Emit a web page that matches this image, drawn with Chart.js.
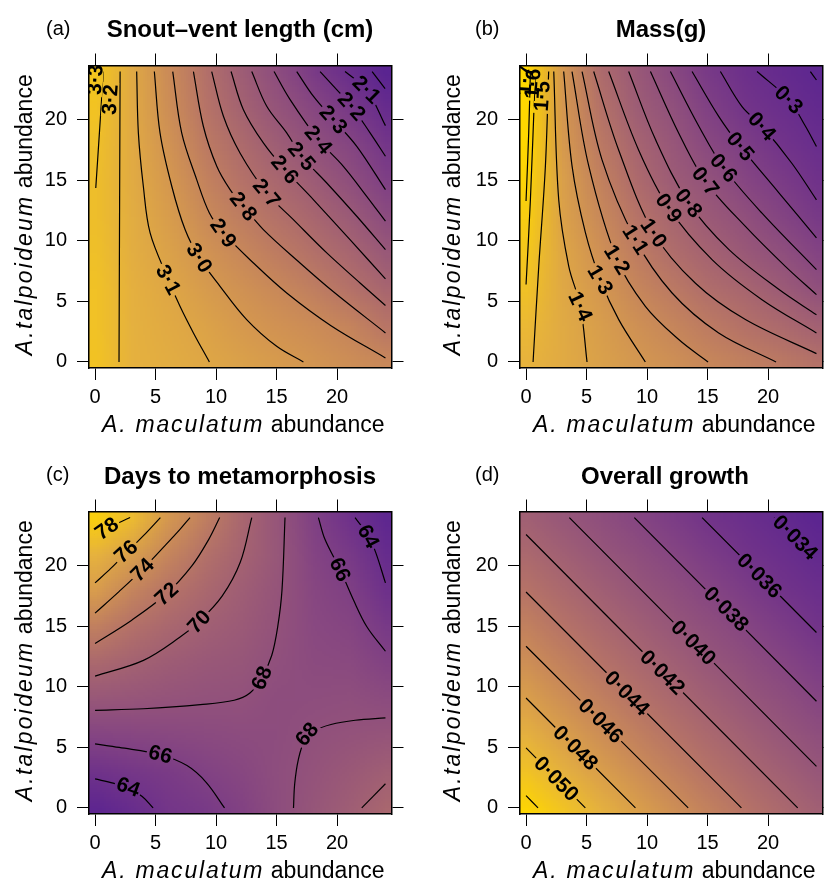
<!DOCTYPE html>
<html lang="en">
<head>
  <meta charset="UTF-8">
  <title>Larval traits vs. salamander abundance</title>
  <script src="https://cdn.jsdelivr.net/npm/chart.js"></script>
  <style>
    body { margin: 0; background: #fff; }
    canvas { position: absolute; }
  </style>
</head>
<body>
  <canvas id="chartA" width="412" height="440" style="left:0;top:0"></canvas>
  <canvas id="chartB" width="412" height="440" style="left:412px;top:0"></canvas>
  <canvas id="chartC" width="412" height="441" style="left:0;top:440px"></canvas>
  <canvas id="chartD" width="412" height="441" style="left:412px;top:440px"></canvas>

  <script>
    // shared axes
    const axisTicks = [0, 5, 10, 15, 20];
    const gridNodes = [0, 3, 6, 9, 12, 15, 18, 21, 24];

    // (a) snout-vent length: surface rows go y = 0, 3, ... 24
    const svlGrid = [
      [3.28, 3.17, 3.14, 3.105, 3.065, 3.03, 2.99, 2.945, 2.905],
      [3.27, 3.165, 3.125, 3.08, 3.02, 2.974, 2.934, 2.882, 2.78],
      [3.27, 3.16, 3.105, 3.037, 2.972, 2.915, 2.844, 2.754, 2.64],
      [3.26, 3.15, 3.075, 2.985, 2.908, 2.828, 2.737, 2.637, 2.51],
      [3.25, 3.14, 3.04, 2.925, 2.83, 2.737, 2.641, 2.528, 2.385],
      [3.25, 3.13, 3.01, 2.875, 2.754, 2.651, 2.54, 2.415, 2.27],
      [3.26, 3.125, 2.978, 2.82, 2.685, 2.557, 2.433, 2.325, 2.18],
      [3.28, 3.12, 2.945, 2.77, 2.61, 2.465, 2.34, 2.215, 2.065],
      [3.3, 3.12, 2.927, 2.74, 2.553, 2.39, 2.23, 2.085, 1.95]
    ];
    const svlLines = [
      [3.15, [[1.98, 0], [2.07, 24]]],
      [3.2, [[0.06, 14.38], [0.36, 18.93], [0.69, 24]]],
      [3.1, [[3.44, 24], [3.58, 18.93], [3.99, 14.52], [4.55, 10.66], [6.06, 6.8], [7.02, 4.6], [8.13, 2.4], [9.45, 0]]],
      [3.0, [[4.9, 24], [5.37, 18.93], [6.34, 14.52], [7.44, 10.94], [8.62, 8.6], [10.33, 6.25], [12.53, 3.5], [15.01, 1.29], [17.22, 0]]],
      [2.9, [[6.42, 24], [7.16, 18.93], [8.4, 15.07], [9.45, 12.31], [10.61, 10.66], [13.09, 8.18], [15.84, 5.7], [19.5, 3.0], [24, 0.33]]],
      [2.8, [[8.13, 24], [8.95, 19.48], [10.06, 16.17], [11.16, 14.24], [12.26, 12.87], [13.91, 10.94], [16.94, 8.18], [19.7, 5.8], [24, 2.4]]],
      [2.7, [[9.64, 24], [10.61, 20.3], [11.98, 17.27], [14.19, 13.97], [16.39, 11.76], [19.15, 9.01], [21.9, 6.53], [24, 4.66]]],
      [2.6, [[11.24, 24], [12.26, 20.85], [13.91, 18.1], [15.7, 15.9], [18.04, 13.42], [21.07, 10.11], [24, 6.86]]],
      [2.5, [[12.95, 24], [14.19, 21.13], [15.84, 18.93], [17.08, 17.0], [19.15, 14.79], [21.63, 12.04], [24, 9.28]]],
      [2.4, [[14.79, 24], [16.12, 21.68], [18.46, 18.37], [20.52, 16.17], [22.45, 13.69], [24, 11.63]]],
      [2.3, [[16.67, 24], [18.04, 21.96], [19.7, 20.03], [21.63, 17.82], [24, 14.24]]],
      [2.2, [[18.6, 24], [19.97, 22.51], [21.21, 21.13], [22.73, 18.93], [24, 17.0]]],
      [2.1, [[20.66, 24], [22.45, 22.51], [24, 19.53]]],
      [2.0, [[22.9, 24], [23.97, 22.59]]]
    ];
    const svlLabels = [
      ['3·3', 0.0, 23.33, -86], ['3·2', 1.24, 21.68, -86], ['3·1', 6.06, 6.8, 62],
      ['3·0', 8.62, 8.6, 58], ['2·9', 10.61, 10.66, 55], ['2·8', 12.26, 12.87, 52],
      ['2·7', 14.19, 13.97, 50], ['2·6', 15.7, 15.9, 50], ['2·5', 17.08, 17.0, 50],
      ['2·4', 18.46, 18.37, 50], ['2·3', 19.7, 20.03, 48], ['2·2', 21.21, 21.13, 48],
      ['2·1', 22.45, 22.51, 45]
    ];

    // (b) mass
    const massGrid = [
      [1.51, 1.445, 1.38, 1.318, 1.26, 1.2, 1.147, 1.094, 1.03],
      [1.55, 1.443, 1.36, 1.27, 1.187, 1.105, 1.024, 0.946, 0.86],
      [1.6, 1.433, 1.32, 1.2, 1.1, 0.99, 0.911, 0.8, 0.68],
      [1.64, 1.416, 1.272, 1.126, 0.988, 0.88, 0.772, 0.67, 0.548],
      [1.68, 1.386, 1.218, 1.053, 0.905, 0.78, 0.675, 0.556, 0.445],
      [1.72, 1.37, 1.162, 0.965, 0.8, 0.7, 0.572, 0.472, 0.365],
      [1.78, 1.33, 1.1, 0.9, 0.75, 0.6, 0.487, 0.39, 0.295],
      [1.84, 1.31, 1.04, 0.82, 0.685, 0.52, 0.397, 0.32, 0.24],
      [1.9, 1.31, 0.967, 0.771, 0.6, 0.445, 0.336, 0.255, 0.19]
    ];
    const massLines = [
      [1.7, [[0, 13.3], [0.22, 18.93], [0.36, 24]]],
      [1.6, [[0, 6.4], [0.36, 13.4], [0.77, 24]]],
      [1.5, [[0.58, 0], [1.05, 7.9], [1.6, 16.2], [1.87, 24]]],
      [1.4, [[5.04, 0], [4.49, 4.6], [3.53, 7.9], [2.7, 13.4], [2.29, 24]]],
      [1.3, [[9.86, 0], [7.66, 3.5], [6.14, 6.8], [4.9, 10.7], [3.8, 16.2], [3.11, 24]]],
      [1.2, [[15.04, 0], [12.62, 1.85], [9.86, 4.6], [7.52, 8.46], [5.18, 16.2], [3.8, 24]]],
      [1.1, [[20.66, 0], [15.92, 2.4], [12.07, 5.7], [9.04, 10.11], [6.28, 16.7], [4.63, 24]]],
      [1.0, [[24, 0.69], [18.13, 3.5], [14, 6.5], [10.55, 10.66], [7.66, 17.5], [5.59, 24]]],
      [0.9, [[24, 2.4], [19.5, 5.15], [15.37, 8.46], [11.79, 12.73], [9.31, 17.5], [6.83, 24]]],
      [0.8, [[24, 3.9], [20.88, 6.0], [16.75, 9.3], [13.44, 13.14], [10.69, 18.4], [8.48, 24]]],
      [0.7, [[24, 5.56], [21.43, 7.9], [18.13, 11.2], [14.82, 14.93], [12.62, 18.9], [10.28, 24]]],
      [0.6, [[24, 7.63], [19.5, 12.3], [16.34, 16.03], [14.27, 19.5], [11.93, 24]]],
      [0.5, [[24, 10.25], [20.88, 14.0], [17.71, 17.82], [15.92, 20.3], [13.72, 24]]],
      [0.4, [[24, 13.4], [21.98, 16.4], [19.5, 19.48], [17.85, 21.1], [16.06, 24]]],
      [0.3, [[24, 17.8], [23.08, 19.5], [21.71, 21.68], [19.09, 24]]],
      [0.2, [[23.5, 24], [24, 23.3]]]
    ];
    const massLabels = [
      ['1·4', 4.49, 4.6, 65], ['1·3', 6.14, 6.8, 60], ['1·2', 7.52, 8.46, 58],
      ['1·1', 9.04, 10.11, 57], ['1·0', 10.55, 10.66, 55], ['0·9', 11.79, 12.73, 55],
      ['0·8', 13.44, 13.14, 52], ['0·7', 14.82, 14.93, 52], ['0·6', 16.34, 16.03, 50],
      ['0·5', 17.71, 17.82, 50], ['0·4', 19.5, 19.48, 48], ['0·3', 21.71, 21.68, 45],
      ['1·5', 1.32, 21.96, -86], ['1·6', 0.55, 23.0, -86], ['1·7', -0.1, 23.3, -86]
    ];

    // (c) days to metamorphosis
    const daysGrid = [
      [62.4, 63.6, 64.9, 65.3, 66.3, 67.5, 68.6, 69.6, 70.7],
      [64.4, 65.0, 65.5, 66.2, 66.8, 67.6, 68.3, 69.0, 69.7],
      [66.5, 66.7, 66.9, 67.2, 67.4, 67.5, 68.0, 68.3, 68.5],
      [68.7, 68.5, 68.3, 68.1, 68.03, 67.5, 67.6, 67.7, 67.4],
      [70.8, 70.05, 69.4, 68.9, 68.6, 67.85, 67.3, 67.1, 66.3],
      [73.1, 71.7, 70.7, 69.8, 69.1, 68.15, 67.0, 66.6, 65.3],
      [75.5, 73.5, 72.1, 70.8, 69.6, 68.4, 66.8, 66.0, 64.2],
      [77.2, 75.6, 73.6, 71.8, 70.2, 68.7, 66.5, 65.3, 63.3],
      [79.4, 77.9, 75.1, 73.1, 70.7, 68.5, 66.1, 64.3, 62.5]
    ];
    const daysLines = [
      [78, [[0, 22.6], [0.96, 23.1], [2.9, 24]]],
      [76, [[0, 18.6], [1.3, 19.8], [2.6, 21.1], [4.0, 22.5], [5.4, 24]]],
      [74, [[0, 16.1], [2, 17.9], [3.9, 19.7], [5.8, 21.7], [7, 23], [7.85, 24]]],
      [72, [[0, 13.6], [3, 15.5], [5.9, 17.7], [8, 20], [9.4, 22.2], [10.3, 24]]],
      [70, [[0, 10.9], [4, 12.2], [7, 14.1], [8.6, 15.4], [10.5, 17.5], [12, 20.3], [12.95, 24]]],
      [68, [[0, 8.07], [4, 8.2], [8.7, 8.54], [11.5, 8.9], [12.8, 9.5], [13.77, 10.74], [14.6, 12.6], [15.1, 15], [15.45, 18], [15.7, 24]]],
      [68, [[16.4, 0], [16.5, 2], [16.8, 4], [17.3, 5.5], [18.2, 6.4], [19.5, 6.9], [21.5, 7.25], [24, 7.45]]],
      [70, [[22.04, 0], [24, 2.0]]],
      [66, [[0, 5.3], [2, 5.0], [5.4, 4.4], [7.6, 3.5], [9.2, 2.1], [10.7, 0]]],
      [64, [[0, 2.4], [1.5, 2.05], [2.8, 1.6], [3.9, 0.95], [4.8, 0]]],
      [66, [[18.46, 24], [19.0, 22.2], [20.25, 19.7], [21.35, 17.2], [22.45, 15.0], [24, 12.95]]],
      [64, [[21.49, 24], [22.6, 22.45], [23.2, 21.1], [24, 18.6]]]
    ];
    const daysLabels = [
      ['78', 0.96, 23.1, -35], ['76', 2.55, 21.2, -42], ['74', 3.9, 19.7, -45],
      ['72', 5.9, 17.7, -42], ['70', 8.6, 15.4, -47], ['68', 13.77, 10.74, -68],
      ['68', 17.5, 6.1, -50], ['66', 5.4, 4.45, 15], ['64', 2.75, 1.75, 20],
      ['66', 20.25, 19.7, 65], ['64', 22.6, 22.45, 62]
    ];

    // (d) overall growth
    const growthGrid = [
      [0.0525, 0.0510, 0.0495, 0.0480, 0.0466, 0.0453, 0.0439, 0.0426, 0.0414],
      [0.0510, 0.0495, 0.0480, 0.0466, 0.0453, 0.0439, 0.0426, 0.0414, 0.0402],
      [0.0495, 0.0480, 0.0466, 0.0453, 0.0439, 0.0426, 0.0414, 0.0402, 0.0391],
      [0.0480, 0.0466, 0.0453, 0.0439, 0.0426, 0.0414, 0.0402, 0.0391, 0.0380],
      [0.0466, 0.0453, 0.0439, 0.0426, 0.0414, 0.0402, 0.0391, 0.0380, 0.0369],
      [0.0453, 0.0439, 0.0426, 0.0414, 0.0402, 0.0391, 0.0380, 0.0369, 0.0358],
      [0.0439, 0.0426, 0.0414, 0.0402, 0.0391, 0.0380, 0.0369, 0.0358, 0.0349],
      [0.0426, 0.0414, 0.0402, 0.0391, 0.0380, 0.0369, 0.0358, 0.0349, 0.0339],
      [0.0414, 0.0402, 0.0391, 0.0380, 0.0369, 0.0358, 0.0349, 0.0339, 0.0330]
    ];
    const growthLines = [
      [0.052, [[0, 1.02], [0.99, 0]]],
      [0.050, [[0, 4.96], [4.9, 0]]],
      [0.048, [[0, 9.09], [9.04, 0]]],
      [0.046, [[0, 13.36], [13.4, 0]]],
      [0.044, [[0, 17.85], [17.8, 0]]],
      [0.042, [[0, 22.6], [22.45, 0]]],
      [0.040, [[3.58, 24], [24, 3.44]]],
      [0.038, [[8.95, 24], [24, 8.82]]],
      [0.036, [[14.55, 24], [24, 14.5]]],
      [0.034, [[20.5, 24], [24, 20.8]]]
    ];
    const growthLabels = [
      ['0·050', 2.51, 2.42, 45], ['0·048', 4.1, 4.97, 45], ['0·046', 6.18, 7.2, 45],
      ['0·044', 8.34, 9.49, 45], ['0·042', 11.29, 11.21, 45], ['0·040', 13.85, 13.65, 45],
      ['0·038', 16.55, 16.45, 45], ['0·036', 19.3, 19.2, 45], ['0·034', 22.25, 22.35, 45]
    ];

    const FAMILY = '"Liberation Sans", Arial, Helvetica, sans-serif';
    const palette = ['#5a2491', '#71338a', '#8a4a80', '#a05f74', '#b87566', '#d29452', '#e8b53c', '#ffd700'];

    function hexRgb(h) {
      return [1, 3, 5].map(i => parseInt(h.slice(i, i + 2), 16));
    }

    function colourFor(v, lo, hi) {
      let t = Math.min(1, Math.max(0, (v - lo) / (hi - lo))) * (palette.length - 1);
      let i = Math.min(palette.length - 2, Math.floor(t));
      let f = t - i;
      let a = hexRgb(palette[i]), b = hexRgb(palette[i + 1]);
      return a.map((c, k) => Math.round(c + (b[k] - c) * f));
    }

    // paints the value grid as an image under the contours
    function surfacePlugin(grid, lo, hi) {
      return {
        id: 'surface',
        beforeDraw(chart) {
          const { ctx, chartArea: area, scales } = chart;
          const n = gridNodes.length;
          const off = document.createElement('canvas');
          off.width = n; off.height = n;
          const octx = off.getContext('2d');
          const img = octx.createImageData(n, n);
          for (let r = 0; r < n; r++) {
            for (let c = 0; c < n; c++) {
              const rgb = colourFor(grid[r][c], lo, hi);
              img.data.set([rgb[0], rgb[1], rgb[2], 255], ((n - 1 - r) * n + c) * 4);
            }
          }
          octx.putImageData(img, 0, 0);
          const half = (gridNodes[1] - gridNodes[0]) / 2;
          const x0 = scales.x.getPixelForValue(gridNodes[0] - half);
          const x1 = scales.x.getPixelForValue(gridNodes[n - 1] + half);
          const y0 = scales.y.getPixelForValue(gridNodes[n - 1] + half);
          const y1 = scales.y.getPixelForValue(gridNodes[0] - half);
          ctx.save();
          ctx.beginPath();
          ctx.rect(area.left, area.top, area.width, area.height);
          ctx.clip();
          ctx.imageSmoothingEnabled = true;
          ctx.imageSmoothingQuality = 'low';
          ctx.drawImage(off, x0, y0, x1 - x0, y1 - y0);
          ctx.restore();
        }
      };
    }

    const labelFont = 'bold 21px ' + FAMILY;

    function labelBox(ctx, chart, lab) {
      const [txt, lx, ly, ang] = lab;
      const px = chart.scales.x.getPixelForValue(lx);
      const py = chart.scales.y.getPixelForValue(ly);
      const w = ctx.measureText(txt).width + 4, h = 16;
      const r = ang * Math.PI / 180, c = Math.cos(r), s = Math.sin(r);
      return [[-w / 2, -h / 2], [w / 2, -h / 2], [w / 2, h / 2], [-w / 2, h / 2]]
        .map(([u, v]) => [px + u * c - v * s, py + u * s + v * c]);
    }

    // contour labels, with the line broken under each label
    function labelPlugin(labels) {
      return {
        id: 'contourLabels',
        beforeDatasetsDraw(chart) {
          const { ctx, chartArea: area } = chart;
          ctx.save();
          ctx.font = labelFont;
          ctx.beginPath();
          ctx.rect(area.left - 2, area.top - 2, area.width + 4, area.height + 4);
          labels.forEach(lab => {
            const pts = labelBox(ctx, chart, lab);
            ctx.moveTo(pts[0][0], pts[0][1]);
            pts.slice(1).forEach(p => ctx.lineTo(p[0], p[1]));
            ctx.closePath();
          });
          ctx.clip('evenodd');
        },
        afterDatasetsDraw(chart) {
          const { ctx, chartArea: area } = chart;
          ctx.restore();
          ctx.save();
          ctx.beginPath();
          ctx.rect(area.left, area.top, area.width, area.height);
          ctx.clip();
          ctx.font = labelFont;
          ctx.fillStyle = '#000';
          ctx.textAlign = 'center';
          ctx.textBaseline = 'middle';
          labels.forEach(([txt, lx, ly, ang]) => {
            ctx.save();
            ctx.translate(chart.scales.x.getPixelForValue(lx), chart.scales.y.getPixelForValue(ly));
            ctx.rotate(ang * Math.PI / 180);
            ctx.fillText(txt, 0, 1);
            ctx.restore();
          });
          ctx.restore();
        }
      };
    }

    // draws a run of text pieces, centred on (cx, cy)
    function drawPieces(ctx, pieces, cx, cy, rotate) {
      ctx.save();
      ctx.translate(cx, cy);
      if (rotate) ctx.rotate(-Math.PI / 2);
      let widths = pieces.map(([txt, font, spacing]) => {
        ctx.font = font;
        ctx.letterSpacing = spacing + 'px';
        return ctx.measureText(txt).width;
      });
      let x = -widths.reduce((s, w) => s + w, 0) / 2;
      ctx.textAlign = 'left';
      ctx.textBaseline = 'alphabetic';
      pieces.forEach(([txt, font, spacing], i) => {
        ctx.font = font;
        ctx.letterSpacing = spacing + 'px';
        ctx.fillText(txt, x, 0);
        x += widths[i];
      });
      ctx.restore();
    }

    function textPlugin(p) {
      return {
        id: 'frameText',
        afterDraw(chart) {
          const { ctx, chartArea: area } = chart;
          ctx.save();
          ctx.fillStyle = '#000';
          ctx.textBaseline = 'alphabetic';
          ctx.textAlign = 'center';
          ctx.font = 'bold 24px ' + FAMILY;
          ctx.fillText(p.title, p.titleX, p.titleY);
          ctx.textAlign = 'left';
          ctx.font = '20px ' + FAMILY;
          ctx.fillText(p.tag, p.tagX, p.tagY);
          const italic = 'italic 23px ' + FAMILY, plain = '23px ' + FAMILY;
          drawPieces(ctx, [['A. maculatum', italic, 1.8], [' abundance', plain, 0]],
            (area.left + area.right) / 2 + 3, area.bottom + 64, false);
          drawPieces(ctx, [['A.talpoideum', italic, 2.2], [' abundance', plain, 0]],
            p.yTitleX, (area.top + area.bottom) / 2 - 2, true);
          ctx.restore();
        }
      };
    }

    function axis(position, showLabels, size) {
      const vertical = position === 'left' || position === 'right';
      return {
        type: 'linear',
        position: position,
        min: -0.5,
        max: 24.5,
        afterBuildTicks: s => { s.ticks = axisTicks.map(v => ({ value: v })); },
        afterFit: s => { if (vertical) s.width = size; else s.height = size; },
        grid: { drawOnChartArea: false, drawTicks: true, tickLength: 12, color: '#000', lineWidth: 1 },
        border: { display: true, color: '#000', width: 1.5 },
        ticks: {
          display: showLabels,
          color: '#000',
          font: { family: FAMILY, size: 20 },
          padding: vertical ? 10 : 5,
          maxRotation: 0,
          autoSkip: false
        }
      };
    }

    const panels = [
      { id: 'chartA', h: 440, box: { left: 89, right: 391.5, top: 65.5, bottom: 368 },
        title: 'Snout\u2013vent length (cm)', titleX: 240, titleY: 37, tag: '(a)', tagX: 46, tagY: 35,
        yTitleX: 32, grid: svlGrid, lo: 1.95, hi: 3.4, lines: svlLines, labels: svlLabels },
      { id: 'chartB', h: 440, box: { left: 108, right: 410.5, top: 65.5, bottom: 368 },
        title: 'Mass(g)', titleX: 249, titleY: 37, tag: '(b)', tagX: 63, tagY: 35,
        yTitleX: 48, grid: massGrid, lo: 0.15, hi: 1.75, lines: massLines, labels: massLabels },
      { id: 'chartC', h: 441, box: { left: 89, right: 391.5, top: 71.5, bottom: 374 },
        title: 'Days to metamorphosis', titleX: 240, titleY: 44, tag: '(c)', tagX: 46, tagY: 41,
        yTitleX: 32, grid: daysGrid, lo: 62, hi: 80, lines: daysLines, labels: daysLabels },
      { id: 'chartD', h: 441, box: { left: 108, right: 410.5, top: 71.5, bottom: 374 },
        title: 'Overall growth', titleX: 253, titleY: 44, tag: '(d)', tagX: 63, tagY: 41,
        yTitleX: 48, grid: growthGrid, lo: 0.0328, hi: 0.0527, lines: growthLines, labels: growthLabels }
    ];

    panels.forEach(p => {
      const W = 412;
      new Chart(document.getElementById(p.id), {
        type: 'scatter',
        data: {
          datasets: p.lines.map(([level, pts]) => ({
            label: String(level),
            data: pts.map(([x, y]) => ({ x: x, y: y })),
            showLine: true,
            borderColor: '#000',
            borderWidth: 1.2,
            pointRadius: 0,
            tension: 0.35,
            fill: false
          }))
        },
        options: {
          responsive: false,
          animation: false,
          events: [],
          layout: { padding: 0 },
          plugins: { legend: { display: false }, tooltip: { enabled: false } },
          scales: {
            x: axis('bottom', true, p.h - p.box.bottom),
            x2: axis('top', false, p.box.top),
            y: axis('left', true, p.box.left),
            y2: axis('right', false, W - p.box.right)
          }
        },
        plugins: [surfacePlugin(p.grid, p.lo, p.hi), labelPlugin(p.labels), textPlugin(p)]
      });
    });
  </script>
</body>
</html>
